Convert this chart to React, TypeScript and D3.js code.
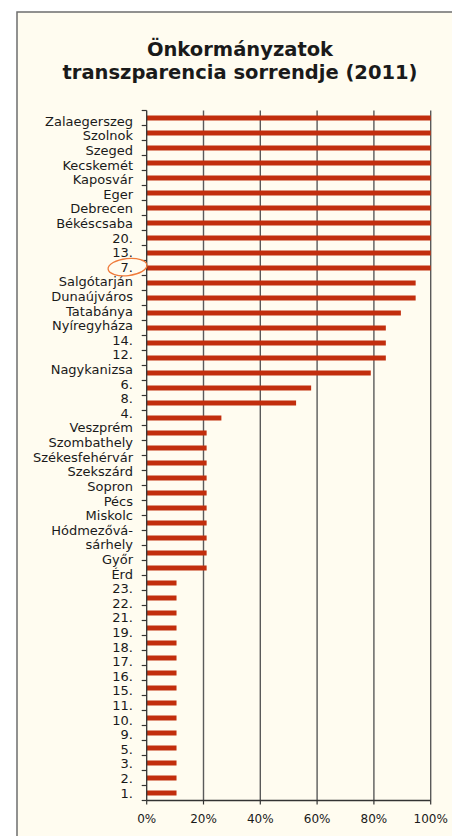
import React from 'react'
import * as d3 from 'd3'

// bar categories, top to bottom
const cities = [
  'Zalaegerszeg', 'Szolnok', 'Szeged', 'Kecskemét', 'Kaposvár', 'Eger', 'Debrecen', 'Békéscsaba',
  '20.', '13.', '7.', 'Salgótarján', 'Dunaújváros', 'Tatabánya', 'Nyíregyháza', '14.', '12.',
  'Nagykanizsa', '6.', '8.', '4.', 'Veszprém', 'Szombathely', 'Székesfehérvár', 'Szekszárd',
  'Sopron', 'Pécs', 'Miskolc', 'Hódmezővásárhely', 'Győr', 'Érd', '23.', '22.', '21.', '19.',
  '18.', '17.', '16.', '15.', '11.', '10.', '9.', '5.', '3.', '2.', '1.'
]

// transparency score, %
const scores = [
  100, 100, 100, 100, 100, 100, 100, 100,
  100, 100, 100, 94.7, 94.7, 89.5, 84.2, 84.2, 84.2,
  78.9, 57.9, 52.6, 26.3, 21.1, 21.1, 21.1, 21.1,
  21.1, 21.1, 21.1, 21.1, 21.1, 21.1, 10.5, 10.5, 10.5, 10.5,
  10.5, 10.5, 10.5, 10.5, 10.5, 10.5, 10.5, 10.5, 10.5, 10.5, 10.5
]

// label text block as it appears (the long name wraps over two lines)
const labelLines = [
  'Zalaegerszeg', 'Szolnok', 'Szeged', 'Kecskemét', 'Kaposvár', 'Eger', 'Debrecen', 'Békéscsaba',
  '20.', '13.', '7.', 'Salgótarján', 'Dunaújváros', 'Tatabánya', 'Nyíregyháza', '14.', '12.',
  'Nagykanizsa', '6.', '8.', '4.', 'Veszprém', 'Szombathely', 'Székesfehérvár', 'Szekszárd',
  'Sopron', 'Pécs', 'Miskolc', 'Hódmezővá-', 'sárhely', 'Győr', 'Érd', '23.', '22.', '21.', '19.',
  '18.', '17.', '16.', '15.', '11.', '10.', '9.', '5.', '3.', '2.', '1.'
]

const xTicks = [0, 20, 40, 60, 80, 100]
const titleLines = ['Önkormányzatok', 'transzparencia sorrendje (2011)']
const highlighted = '7.'

const W = 452
const H = 836
const plot = { left: 146.7, right: 430.7, top: 110.5, bottom: 800.5 }
const font = "'DejaVu Sans', sans-serif"

const App = () => {
  const x = d3.scaleLinear().domain([0, 100]).range([plot.left, plot.right])
  const y = d3.scaleBand().domain(cities).range([plot.top, plot.bottom]).paddingInner(0).paddingOuter(0)
  const labelY = d3.scalePoint().domain(labelLines).range([121, 793])
  const barH = 5
  const boundaries = [...cities.map(c => y(c) as number), plot.bottom]
  const hlY = labelY(highlighted) as number

  return (
    <svg width={W} height={H} style={{ position: 'absolute', left: 0, top: 0 }} fontFamily={font}>
      <rect x={0} y={0} width={W} height={H} fill='#ffffff' />
      <rect x={17} y={12} width={W + 20} height={H + 20} fill='#fffcf0' stroke='#6e6e6e' strokeWidth={1.5} />

      {titleLines.map((t, i) => (
        <text key={t} x={240} y={56 + i * 23} textAnchor='middle' fontSize={19.5} fontWeight='bold' fill='#1a1a1a'>{t}</text>
      ))}

      {/* gridlines */}
      {xTicks.filter(v => v > 0).map(v => (
        <line key={v} x1={x(v)} x2={x(v)} y1={plot.top} y2={plot.bottom} stroke='#5a5a5a' strokeWidth={1.4} />
      ))}

      {/* bars */}
      {cities.map((c, i) => (
        <rect
          key={c}
          x={x(0)}
          y={(y(c) as number) + y.bandwidth() / 2 - barH / 2}
          width={x(scores[i]) - x(0)}
          height={barH}
          fill='#c22e0d'
        />
      ))}

      {/* y axis */}
      <line x1={plot.left} x2={plot.left} y1={plot.top} y2={plot.bottom} stroke='#333' strokeWidth={1.3} />
      {boundaries.map((b, i) => (
        <line key={i} x1={plot.left - 5} x2={plot.left} y1={b} y2={b} stroke='#333' strokeWidth={1.2} />
      ))}

      {/* x axis */}
      <line x1={plot.left} x2={plot.right} y1={plot.bottom} y2={plot.bottom} stroke='#333' strokeWidth={1.3} />
      {xTicks.map(v => (
        <g key={v}>
          <line x1={x(v)} x2={x(v)} y1={plot.bottom} y2={plot.bottom + 4} stroke='#333' strokeWidth={1.2} />
          <text x={x(v)} y={823} textAnchor='middle' fontSize={12} fill='#1a1a1a'>{d3.format('d')(v)}%</text>
        </g>
      ))}

      {/* category labels */}
      {labelLines.map(l => (
        <text key={l} x={133} y={labelY(l)} dy='0.36em' textAnchor='end' fontSize={13} fill='#1a1a1a'>{l}</text>
      ))}

      <ellipse cx={127.5} cy={hlY} rx={19.5} ry={8.5} fill='none' stroke='#ef7a3a' strokeWidth={1.3}
        transform={`rotate(-6 127.5 ${hlY})`} />
    </svg>
  )
}

export default App
